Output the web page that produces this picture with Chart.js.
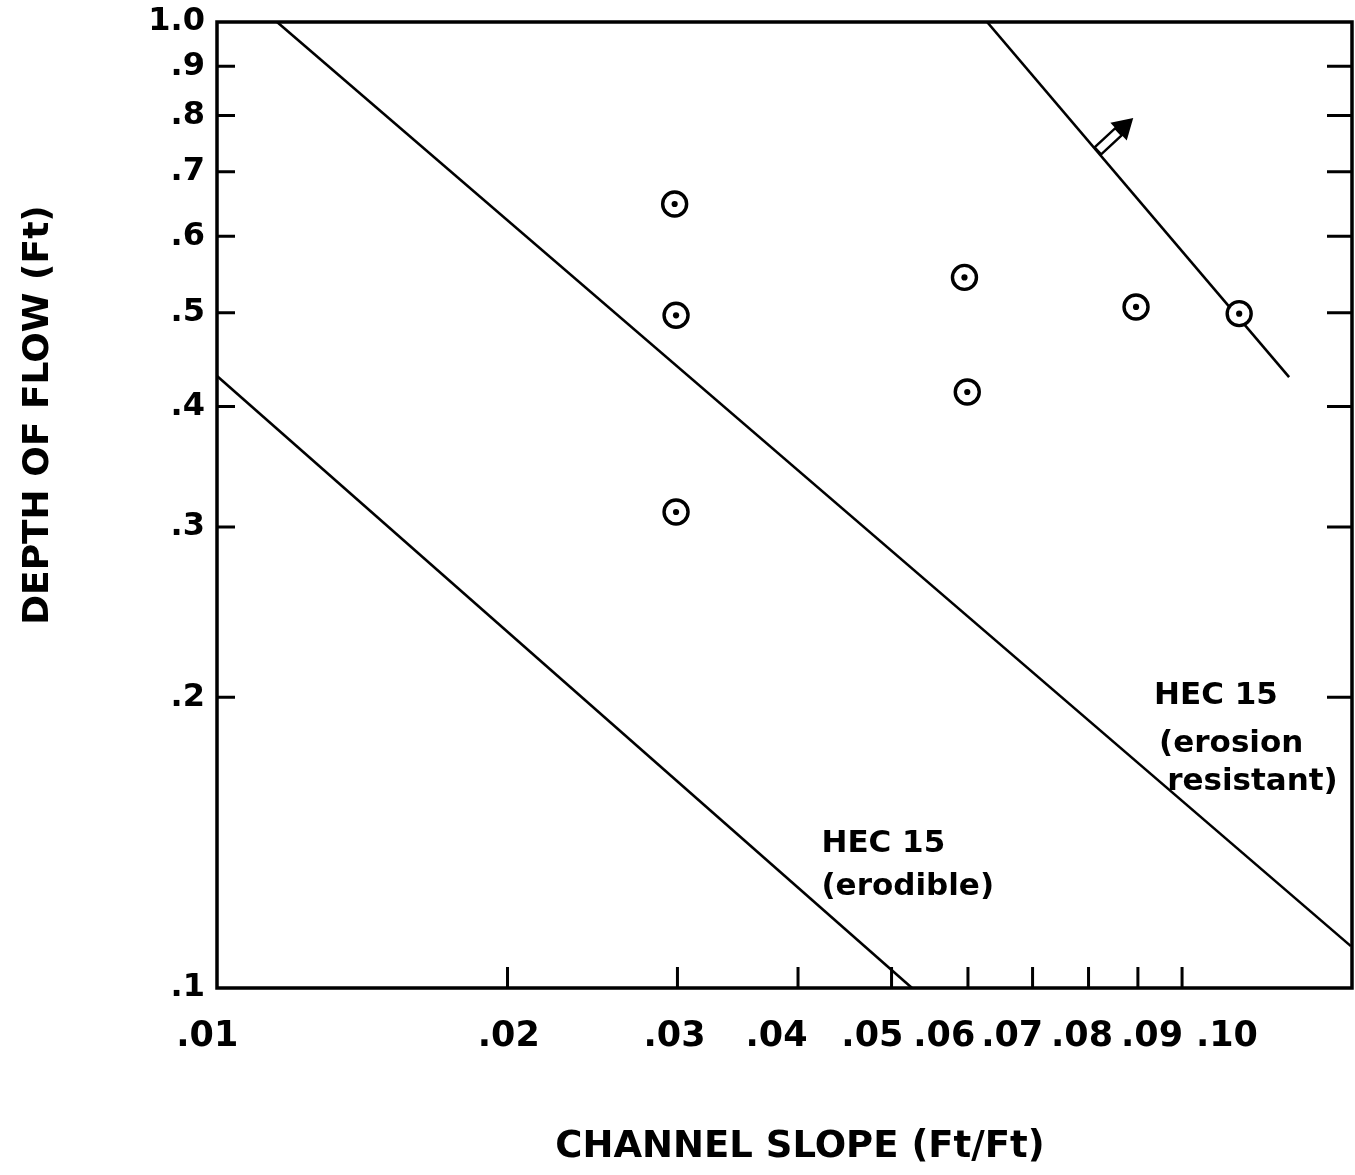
<!DOCTYPE html>
<html><head><meta charset="utf-8">
<script src="https://cdn.jsdelivr.net/npm/chart.js@4.4.1/dist/chart.umd.min.js"></script>
<style>html,body{margin:0;padding:0;background:#fff}canvas{display:block}</style>
</head><body>
<canvas id="c" width="1355" height="1175"></canvas>
<script>
// ---------------- data ----------------
const slopeSamples = [0.0298, 0.0299, 0.0299, 0.0595, 0.0599, 0.0896, 0.1146];
const depthSamples = [0.648, 0.497, 0.311, 0.544, 0.414, 0.507, 0.499];

const erodibleSlope  = [0.0100, 0.0525];
const erodibleDepth  = [0.430, 0.100];
const resistantSlope = [0.01154, 0.1496];
const resistantDepth = [1.000, 0.1105];
const upperSlope     = [0.0628, 0.1291];
const upperDepth     = [1.000, 0.429];
const arrowSlope     = [0.0818, 0.0890];
const arrowDepth     = [0.7355, 0.7954];

const xTickValues = [0.01, 0.02, 0.03, 0.04, 0.05, 0.06, 0.07, 0.08, 0.09, 0.10];
const xTickLabels = ['.01', '.02', '.03', '.04', '.05', '.06', '.07', '.08', '.09', '.10'];
const yTickValues = [0.1, 0.2, 0.3, 0.4, 0.5, 0.6, 0.7, 0.8, 0.9, 1.0];
const yTickLabels = ['.1', '.2', '.3', '.4', '.5', '.6', '.7', '.8', '.9', '1.0'];

const xMin = 0.01, xMax = 0.15, yMin = 0.1, yMax = 1.0;

// ---------------- layout of texts (data units) ----------------
const xLabelAnchors = [0.00977, 0.02006, 0.02979, 0.03800, 0.04776, 0.05670, 0.06668, 0.07877, 0.09309, 0.1113];
const notes = [
  {text: 'HEC 15',     x: 0.04230, y: 0.1383},
  {text: '(erodible)', x: 0.04230, y: 0.1248},
  {text: 'HEC 15',     x: 0.09354, y: 0.1968},
  {text: '(erosion',   x: 0.09467, y: 0.1755},
  {text: 'resistant)', x: 0.09650, y: 0.1603}
];

const FONT = 'DejaVu Sans';
const pts = (xs, ys) => xs.map((v, i) => ({x: v, y: ys[i]}));

const decor = {
  id: 'decor',
  afterDatasetsDraw(chart) {
    const {ctx, chartArea: a, scales: {x, y}} = chart;
    ctx.save();
    ctx.strokeStyle = '#000';
    ctx.fillStyle = '#000';
    // frame
    ctx.lineWidth = 3.5;
    ctx.strokeRect(a.left, a.top, a.right - a.left, a.bottom - a.top);
    // inward tick marks
    ctx.lineWidth = 3;
    ctx.beginPath();
    yTickValues.forEach(v => {
      if (v <= yMin || v >= yMax) return;
      const py = y.getPixelForValue(v);
      ctx.moveTo(a.left, py); ctx.lineTo(a.left + 18, py);
      ctx.moveTo(a.right, py); ctx.lineTo(a.right - 25, py);
    });
    xTickValues.forEach(v => {
      if (v <= xMin) return;
      const px = x.getPixelForValue(v);
      ctx.moveTo(px, a.bottom); ctx.lineTo(px, a.bottom - 21);
    });
    ctx.stroke();

    // arrow
    const sx = x.getPixelForValue(arrowSlope[0]), sy = y.getPixelForValue(arrowDepth[0]);
    const tx = x.getPixelForValue(arrowSlope[1]), ty = y.getPixelForValue(arrowDepth[1]);
    const L = Math.hypot(tx - sx, ty - sy);
    const ux = (tx - sx) / L, uy = (ty - sy) / L;
    const nx = -uy, ny = ux;
    const head = 20, hw = 12, sw = 4.8;
    const bx = tx - ux * head, by = ty - uy * head;
    ctx.lineWidth = 2.4;
    ctx.beginPath();
    ctx.moveTo(sx + nx * sw, sy + ny * sw);
    ctx.lineTo(bx + nx * sw, by + ny * sw);
    ctx.lineTo(bx - nx * sw, by - ny * sw);
    ctx.lineTo(sx - nx * sw, sy - ny * sw);
    ctx.closePath();
    ctx.fillStyle = '#fff'; ctx.fill(); ctx.stroke();
    ctx.fillStyle = '#000';
    ctx.beginPath();
    ctx.moveTo(tx, ty);
    ctx.lineTo(bx + nx * hw, by + ny * hw);
    ctx.lineTo(bx - nx * hw, by - ny * hw);
    ctx.closePath();
    ctx.fill();

    // x tick labels
    ctx.font = 'bold 35px "' + FONT + '"';
    ctx.textAlign = 'center';
    ctx.textBaseline = 'alphabetic';
    xTickLabels.forEach((t, i) => {
      ctx.fillText(t, x.getPixelForValue(xLabelAnchors[i]), a.bottom + 58);
    });

    // notes
    ctx.font = 'bold 31px "' + FONT + '"';
    ctx.textAlign = 'left';
    notes.forEach(n => ctx.fillText(n.text, x.getPixelForValue(n.x), y.getPixelForValue(n.y)));

    // axis titles
    ctx.font = 'bold 37px "' + FONT + '"';
    ctx.textAlign = 'center';
    ctx.fillText('CHANNEL SLOPE (Ft/Ft)', 800, 1157);
    ctx.save();
    ctx.translate(48, 415);
    ctx.rotate(-Math.PI / 2);
    ctx.font = 'bold 36px "' + FONT + '"';
    ctx.fillText('DEPTH OF FLOW (Ft)', 0, 0);
    ctx.restore();
    ctx.restore();
  }
};

const lineDs = (xs, ys) => ({
  type: 'line', data: pts(xs, ys), borderColor: '#000', borderWidth: 2.6,
  pointRadius: 0, fill: false, tension: 0, order: 3
});

new Chart(document.getElementById('c'), {
  type: 'scatter',
  data: {
    datasets: [
      lineDs(erodibleSlope, erodibleDepth),
      lineDs(resistantSlope, resistantDepth),
      lineDs(upperSlope, upperDepth),
      {data: pts(slopeSamples, depthSamples), pointStyle: 'circle', pointRadius: 12,
       pointBorderWidth: 3.4, borderColor: '#000', backgroundColor: '#fff', order: 1},
      {data: pts(slopeSamples, depthSamples), pointStyle: 'circle', pointRadius: 3.1,
       pointBorderWidth: 0, borderColor: '#000', backgroundColor: '#000', order: 0}
    ]
  },
  options: {
    responsive: false,
    animation: false,
    events: [],
    layout: {autoPadding: false, padding: {top: 22, right: 3, left: 0, bottom: 0}},
    plugins: {legend: {display: false}, tooltip: {enabled: false}},
    scales: {
      x: {
        type: 'logarithmic', min: xMin, max: xMax,
        grid: {display: false}, border: {display: false},
        ticks: {display: false},
        afterBuildTicks: s => { s.ticks = xTickValues.map(v => ({value: v})); },
        afterFit: s => { s.height = 187; s.paddingLeft = 0; s.paddingRight = 0; }
      },
      y: {
        type: 'logarithmic', min: yMin, max: yMax,
        grid: {display: false, drawTicks: false}, border: {display: false},
        ticks: {
          autoSkip: false, padding: 12, color: '#000',
          font: {family: FONT, weight: 'bold', size: 32},
          callback: (v, i) => yTickLabels[i]
        },
        afterBuildTicks: s => { s.ticks = yTickValues.map(v => ({value: v})); },
        afterFit: s => { s.width = 217; s.paddingTop = 0; s.paddingBottom = 0; }
      }
    }
  },
  plugins: [decor]
});
</script>
</body></html>
